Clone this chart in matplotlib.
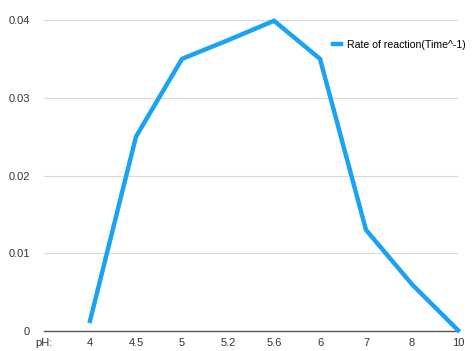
import matplotlib.pyplot as plt

plt.rcParams['font.family'] = ['Liberation Sans', 'DejaVu Sans']

categories = ['pH:', '4', '4.5', '5', '5.2', '5.6', '6', '7', '8', '10']
rate = [None, 0.0013, 0.025, 0.035, 0.0374, 0.0399, 0.035, 0.013, 0.006, 0.0001]

xs = [i for i, v in enumerate(rate) if v is not None]
ys = [v for v in rate if v is not None]

fig = plt.figure(figsize=(4.72, 3.51), dpi=100)
ax = fig.add_axes([44 / 472, 1 - 331 / 351, (458 - 44) / 472, (331 - 20) / 351])

ax.plot(xs, ys, color='#1AA3F3', linewidth=3.2, solid_joinstyle='miter',
        clip_on=False, label='Rate of reaction(Time^-1)', zorder=3)

ax.set_xlim(0, len(categories) - 1)
ax.set_ylim(0, 0.04)
ax.set_xticks(range(len(categories)))
ax.set_xticklabels(categories)
ax.set_yticks([0, 0.01, 0.02, 0.03, 0.04])
ax.set_yticklabels(['0', '0.01', '0.02', '0.03', '0.04'])
ax.tick_params(axis='both', length=0, labelsize=8, colors='#333333')
ax.tick_params(axis='y', pad=10)
ax.tick_params(axis='x', pad=5)

ax.grid(axis='y', color='#d9d9d9', linewidth=0.8)
ax.set_axisbelow(True)
for s in ['top', 'right', 'left']:
    ax.spines[s].set_visible(False)
ax.spines['bottom'].set_color('#555555')
ax.spines['bottom'].set_linewidth(1.0)

fig.legend(loc='center left', bbox_to_anchor=(333 / 472, 1 - 45 / 351),
           frameon=False, fontsize=7.6, handlelength=0.8, handletextpad=0.5,
           borderaxespad=0, borderpad=0)

fig.savefig('out.png', dpi=100)
